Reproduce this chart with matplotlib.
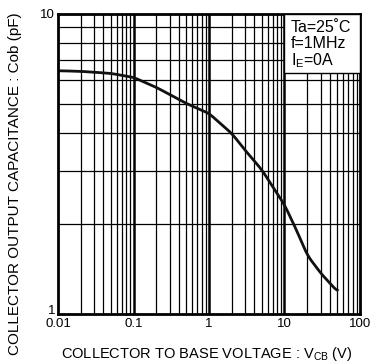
import numpy as np
import matplotlib as mpl
mpl.use("Agg")
import matplotlib.pyplot as plt
from matplotlib.patches import Rectangle

mpl.rcParams.update({"font.family": ["Liberation Sans", "DejaVu Sans"], "font.size": 9.5,
                     "mathtext.fontset": "custom", "mathtext.rm": "Liberation Sans"})

# Cob vs VCB
vcb = [0.01, 0.02, 0.05, 0.1, 0.2, 0.5, 1, 2, 3, 5, 7, 10, 15, 20, 30, 50]
cob = [6.45, 6.42, 6.32, 6.13, 5.68, 5.02, 4.65, 3.99, 3.51, 3.02, 2.65, 2.31, 1.86, 1.57, 1.37, 1.19]
conditions = ["Ta=25˚C", "f=1MHz", "I$_\\mathregular{E}$=0A"]

W, H = 372, 362
fig = plt.figure(figsize=(W / 100, H / 100), dpi=100)
ax = fig.add_axes([58 / W, 48 / H, 302 / W, 300.5 / H])
ax.set_xscale("log")
ax.set_yscale("log")
ax.set_xlim(0.01, 100)
ax.set_ylim(1, 10)

# grid: minor lines everywhere, heavier decade lines on x
for dec in [0.01, 0.1, 1, 10]:
    for k in range(2, 10):
        ax.axvline(dec * k, color="black", lw=0.9, zorder=1)
for v in [0.1, 1, 10]:
    ax.axvline(v, color="black", lw=1.8, zorder=1)
for k in range(2, 10):
    ax.axhline(k, color="black", lw=0.9, zorder=1)

# smooth the read points in log space
lx = np.log10(vcb)
ly = np.log10(cob)
xs = np.linspace(lx[0], lx[-1], 300)
ys = np.interp(xs, lx, ly)
kern = np.ones(9) / 9
ys_s = np.convolve(np.pad(ys, 4, mode="edge"), kern, mode="valid")
ax.plot(10 ** xs, 10 ** ys_s, color="#111111", lw=2.0, zorder=3)

ax.set_xticks([0.01, 0.1, 1, 10, 100])
ax.set_xticklabels(["0.01", "0.1", "1", "10", "100"])
ax.set_yticks([1, 10])
ax.set_yticklabels(["1", "10"])
ax.minorticks_off()
ax.tick_params(length=0, pad=3)
ax.tick_params(axis="y", pad=2)
for lab in ax.get_yticklabels():
    if lab.get_text() == "1":
        lab.set_verticalalignment("baseline")
for s in ax.spines.values():
    s.set_linewidth(2.0)
    s.set_zorder(4)

# conditions box in the top right corner
ax.add_patch(Rectangle((0.748, 0.802), 0.252, 0.198, transform=ax.transAxes,
                       facecolor="white", edgecolor="black", lw=1.0, zorder=5))
for i, t in enumerate(conditions):
    ax.text(0.77, 0.955 - i * 0.056, t, transform=ax.transAxes, ha="left", va="center",
            fontsize=11.5, zorder=6)

fig.text(207 / W, 1 - 354 / H, "COLLECTOR TO BASE VOLTAGE : V$_\\mathregular{CB}$ (V)",
         ha="center", va="center", fontsize=10.5)
fig.text(15 / W, 1 - 184 / H, "COLLECTOR OUTPUT CAPACITANCE : Cob (pF)", rotation=90,
         ha="center", va="center", fontsize=11)

fig.savefig("out.png", dpi=100)
